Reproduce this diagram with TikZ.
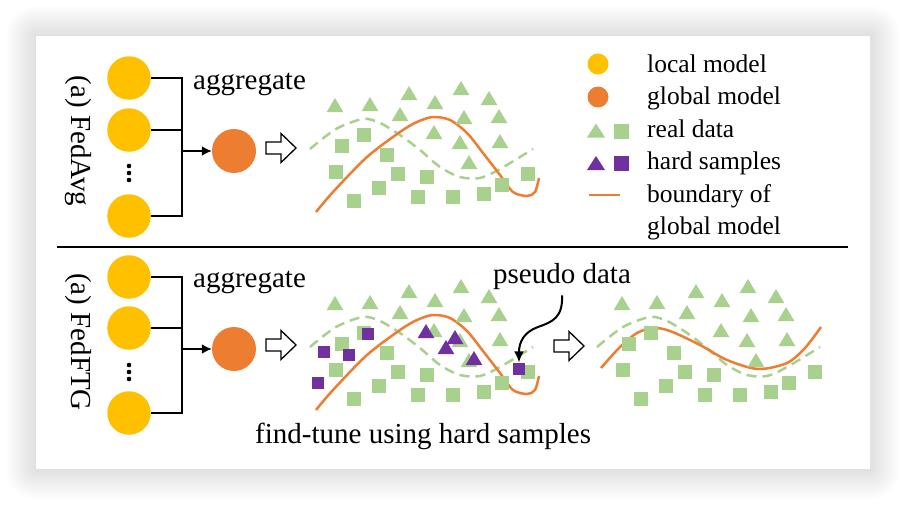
\documentclass[tikz,border=0pt]{standalone}
\usepackage{fontspec}
\setmainfont{Liberation Serif}
\usetikzlibrary{arrows.meta}
\definecolor{yel}{HTML}{FFC000}
\definecolor{org}{HTML}{ED7D31}
\definecolor{grn}{HTML}{A9D18E}
\definecolor{pur}{HTML}{7030A0}
\def\tris{335/105,370/104,409/93,435/102,461/88,489/98,400/114,464/117,499/116,434/132,460/142,500/141,469/162}
\def\sqs{364/135,342/146,387/155,336/172,398/174,427/177,379/188,354/201,418/197,453/197,484/194,502/185,528/174}
\begin{document}
\begin{tikzpicture}[x=1pt,y=-1pt,
  lm/.style={circle,fill=yel,minimum size=43.5pt,inner sep=0pt},
  gm/.style={circle,fill=org,minimum size=44pt,inner sep=0pt},
  conn/.style={line width=1.8pt,black},
  lbl/.style={font=\fontsize{29}{34}\selectfont, inner sep=0pt},
  leg/.style={font=\fontsize{25.5}{30}\selectfont, inner sep=0pt, anchor=base west},
  bnd/.style={org,line width=2.5pt},
  dsh/.style={grn,line width=2.5pt,dash pattern=on 10pt off 6pt},
  hollow/.pic={\draw[black,fill=white,line width=1.3pt,line join=miter] (-15,-6) -- (0,-6) -- (0,-14.5) -- (15,0) -- (0,14.5) -- (0,6) -- (-15,6) -- cycle;},
]
\useasboundingbox (0,0) rectangle (906,506);
% shadow
\foreach \i in {1,...,15} {
  \fill[black,opacity=0.008,rounded corners=2*\i] (36-2*\i,36-2*\i) rectangle (870+2*\i,469+2*\i);
}
\fill[white] (36,36) rectangle (870,469);

% ---------- top panel ----------
\node[lm] (l1) at (129,78) {};
\node[lm] (l2) at (129,130) {};
\node[lm] (l3) at (129,216) {};
\foreach \yy in {166,173,180} \fill (129,\yy) circle (2.3);
\node[gm] (g1) at (234,151) {};
\coordinate (j1) at (182,151);
\draw[conn] (l1.east) -| (j1);
\draw[conn] (l3.east) -| (j1);
\draw[conn] (l2.east) -- (l2.east -| j1);
\draw[conn,-{Latex[length=10pt,width=10pt]}] (j1) -- (g1.west);
\node[lbl,anchor=base west] (ag1) at (193,89) {aggregate};
\node[lbl,rotate=-90] (fa) at (78,141) {(a) FedAvg};
\pic at (281,148) {hollow};

\begin{scope}
\draw[dsh] plot[smooth] coordinates {(310,149) (336,129) (363,119) (380,123) (400,135) (420,150) (440,167) (460,177) (480,178) (500,169) (533,149)};
\draw[bnd] plot[smooth] coordinates {(316,212) (333,192) (367,157) (400,132) (417,122) (433,117) (450,120) (467,133) (483,153) (500,175) (513,192) (527,196) (535,192) (539,178)};
\foreach \x/\y in \tris \fill[grn] (\x-8.3,\y+7) -- (\x+8.3,\y+7) -- (\x,\y-7) -- cycle;
\foreach \x/\y in \sqs \fill[grn] (\x-6.6,\y-6.6) rectangle (\x+6.6,\y+6.6);
\end{scope}

% legend
\fill[yel] (598,64) circle (10.5);
\fill[org] (598,97) circle (10.5);
\fill[grn] (587,137.5) -- (605,137.5) -- (596,123.5) -- cycle;
\fill[grn] (613.5,123.5) rectangle (629,138.5);
\fill[pur] (587,170) -- (605,170) -- (596,156) -- cycle;
\fill[pur] (613.5,156) rectangle (629,171);
\draw[org,line width=2.5pt] (589,195) -- (620,195);
\node[leg] (t1) at (647,72) {local model};
\node[leg] (t2) at (647,104.5) {global model};
\node[leg] (t3) at (647,137) {real data};
\node[leg] (t4) at (647,169.5) {hard samples};
\node[leg] (t5) at (647,202) {boundary of};
\node[leg] (t6) at (647,234.5) {global model};

% divider
\draw[line width=2pt] (57,247) -- (848,247);

% ---------- bottom panel ----------
\node[lm] (l4) at (129,277) {};
\node[lm] (l5) at (129,328) {};
\node[lm] (l6) at (129,413) {};
\foreach \yy in {365,372,379} \fill (129,\yy) circle (2.3);
\node[gm] (g2) at (234,349) {};
\coordinate (j2) at (182,349);
\draw[conn] (l4.east) -| (j2);
\draw[conn] (l6.east) -| (j2);
\draw[conn] (l5.east) -- (l5.east -| j2);
\draw[conn,-{Latex[length=10pt,width=10pt]}] (j2) -- (g2.west);
\node[lbl,anchor=base west] (ag2) at (193,287) {aggregate};
\node[lbl,rotate=-90] (ff) at (78,342) {(a) FedFTG};
\pic at (281,345) {hollow};

\begin{scope}[shift={(0,198)}]
\draw[dsh] plot[smooth] coordinates {(310,149) (336,129) (363,119) (380,123) (400,135) (420,150) (440,167) (460,177) (480,178) (500,169) (533,149)};
\draw[bnd] plot[smooth] coordinates {(316,212) (333,192) (367,157) (400,132) (417,122) (433,117) (450,120) (467,133) (483,153) (500,175) (513,192) (527,196) (535,192) (539,178)};
\foreach \x/\y in \tris \fill[grn] (\x-8.3,\y+7) -- (\x+8.3,\y+7) -- (\x,\y-7) -- cycle;
\foreach \x/\y in \sqs \fill[grn] (\x-6.6,\y-6.6) rectangle (\x+6.6,\y+6.6);
\end{scope}
\foreach \x/\y in {426/331,455/337,446/347,474/358} \fill[pur] (\x-8.3,\y+7) -- (\x+8.3,\y+7) -- (\x,\y-7) -- cycle;
\foreach \x/\y in {368/334,324/352,349/355,318/383} \fill[pur] (\x-6.4,\y-6.4) rectangle (\x+6.4,\y+6.4);
\node[fill=pur,minimum size=12.8pt,inner sep=0pt] (ps) at (519,369) {};
\node[lbl,anchor=base west] (pd) at (493,283) {pseudo data};
\draw[line width=2pt,-{Latex[length=11pt,width=10pt]}] ([yshift=-6pt]pd.south) .. controls (563,318) and (552,322) .. (538,327) .. controls (524,332) and (519,342) .. (ps.north);
\pic at (569,346) {hollow};

\begin{scope}[shift={(287,198)}]
\draw[dsh] plot[smooth] coordinates {(310,149) (336,129) (363,119) (380,123) (400,135) (420,150) (440,167) (460,177) (480,178) (500,169) (533,149)};
\end{scope}
\draw[bnd] plot[smooth] coordinates {(601,368) (620,347) (637,333) (653,328) (670,331) (700,345) (727,360) (758,369) (787,363) (805,348) (821,327)};
\begin{scope}[shift={(287,198)}]
\foreach \x/\y in \tris \fill[grn] (\x-8.3,\y+7) -- (\x+8.3,\y+7) -- (\x,\y-7) -- cycle;
\foreach \x/\y in \sqs \fill[grn] (\x-6.6,\y-6.6) rectangle (\x+6.6,\y+6.6);
\end{scope}

\node[lbl,anchor=base west] (ft) at (255,443) {find-tune using hard samples};
\end{tikzpicture}
\end{document}
